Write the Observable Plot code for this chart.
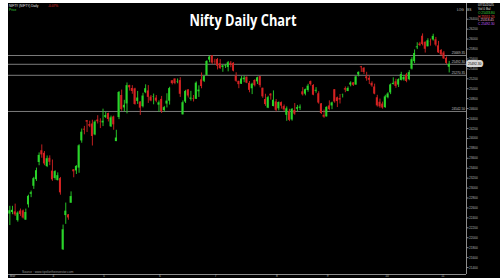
<!DOCTYPE html>
<html><head><meta charset="utf-8">
<script src="https://cdn.jsdelivr.net/npm/d3@7"></script>
<script src="https://cdn.jsdelivr.net/npm/@observablehq/plot@0.6"></script>
<style>
html,body{margin:0;padding:0;background:#fff;}
#wrap{position:relative;width:500px;height:280px;background:#fff;overflow:hidden;}
#chart{position:absolute;left:8px;top:3px;width:492px;height:275px;background:#000;}
#overlay{position:absolute;left:0;top:0;pointer-events:none;}
</style></head><body>
<div id="wrap"><div id="chart"></div><svg id="overlay" width="500" height="280"></svg></div>
<script>
// Nifty daily candles (index 0 = first bar on the left)
const opens = [22476,22508,22521,22345,22537,22541,22354,22662,22875,23036,
23169,23515,23751,23700,23433,23600,23342,23193,23150,23190,
21758,22446,22460,22695,23368,23345,23402,23949,24185,24357,
24277,24290,24070,24370,24342,24311,24419,24500,24233,24431,
23936,24420,24864,24613,24694,25064,25005,24997,24745,24733,
24639,24919,24956,24832,24825,24812,24669,24786,24560,24691,
24749,25160,25196,25134,25164,24474,24732,24977,24788,24803,
24787,24939,25179,25150,25268,25576,25661,25551,25588,25505,
25428,25450,25427,25515,25512,25255,25149,25090,25181,25231,
25109,24999,25166,25139,25244,25010,24783,24609,24890,24642,
24735,24596,24720,24641,24464,24544,24372,24563,24587,24607,
24938,24891,24965,25143,25065,24950,24899,24695,24466,24432,
24654,24653,24980,24818,24802,24864,25000,24945,25074,25118,
25074,25276,25441,25410,25239,25209,25108,25035,24818,24728,
24691,24620,24819,24916,25086,25140,25074,25167,25177,25276,
25182,25394,25546,25824,25901,26057,25935,25844,25940,25982,
25985,25863,25770,25720,25610,25433];
const highs = [22633,22633,22677,22522,22578,22558,22577,22857,22940,23216,
23402,23708,23869,23736,23646,23649,23565,23350,23306,23214,
22255,22698,22468,22923,23368,23452,23872,24189,24242,24359,
24347,24366,24355,24457,24396,24589,24526,24510,24449,24448,
24164,24944,24973,24767,25116,25071,25062,25010,24946,24737,
24909,25079,25063,24864,24893,24863,24754,24845,24644,24899,
25029,25160,25199,25196,25222,24754,24967,24982,24947,24863,
25137,25058,25318,25266,25565,25655,25669,25594,25608,25587,
25470,25489,25549,25548,25525,25322,25151,25245,25255,25238,
25145,25111,25183,25233,25246,25011,24889,24848,24902,24956,
24784,24734,24733,24672,24634,24586,24602,24702,24664,24674,
25022,24993,25089,25154,25084,25022,24939,24702,24572,24636,
24756,24730,24980,24832,24885,24891,25036,25037,25139,25126,
25251,25338,25449,25428,25331,25261,25139,25092,24868,24791,
24731,24868,24920,25095,25220,25192,25199,25330,25267,25310,
25365,25625,25781,25926,25934,26104,25944,26006,26000,26097,
26033,25953,25790,25750,25640,25551];
const lows = [22245,22464,22429,22314,22430,22377,22353,22599,22807,22974,
23133,23450,23601,23451,23412,23451,23136,23158,23145,22857,
21743,22270,22353,22695,23207,23273,23298,23903,24072,24119,
24216,23847,24054,24290,24198,24238,24400,24331,24220,24164,
23935,24378,24547,24535,24494,24953,24889,24669,24685,24462,
24614,24900,24704,24737,24677,24717,24526,24502,24530,24613,
24671,25077,25081,25100,24825,24473,24703,24813,24750,24733,
24783,24825,24999,25125,25259,25523,25489,25488,25378,25389,
25331,25407,25340,25424,25340,25129,25001,25089,25121,25101,
24918,24882,25036,25086,25018,24807,24646,24599,24771,24636,
24535,24554,24590,24539,24344,24337,24347,24465,24539,24563,
24853,24857,24929,25054,24859,24910,24689,24481,24405,24432,
24554,24579,24708,24621,24693,24814,24920,24940,25038,25045,
25070,25239,25329,25287,25151,25084,25028,24878,24630,24606,
24588,24605,24797,24881,25076,25008,25024,25156,25152,25120,
25160,25377,25508,25788,25848,25862,25718,25844,25857,25960,
25845,25711,25660,25590,25490,25318];
const closes = [22544,22552,22460,22497,22470,22397,22509,22834,22907,23190,
23350,23658,23668,23486,23591,23519,23165,23332,23250,22904,
22161,22535,22399,22829,23328,23437,23851,24125,24167,24328,
24246,24039,24328,24335,24334,24346,24461,24380,24414,24273,
24008,24924,24578,24666,25062,25019,24945,24683,24813,24609,
24853,25001,24826,24752,24833,24750,24716,24542,24620,24751,
25003,25103,25104,25141,24888,24719,24946,24853,24812,24793,
25112,24972,25044,25245,25549,25637,25517,25542,25453,25405,
25461,25461,25523,25476,25355,25150,25082,25196,25212,25112,
24968,25091,25061,25220,25062,24837,24681,24821,24855,24768,
24565,24723,24650,24574,24596,24363,24585,24487,24619,24631,
24877,24980,25051,25083,24870,24968,24712,24501,24427,24625,
24580,24715,24734,24741,24773,24868,24973,25006,25114,25069,
25239,25330,25424,25327,25202,25170,25057,24891,24655,24635,
24611,24836,24894,25077,25108,25046,25182,25285,25227,25146,
25324,25585,25710,25843,25869,25891,25795,25966,25936,26054,
25878,25722,25680,25600,25510,25492.3];

// horizontal support / resistance levels
const levels = [25669.35, 25492.30, 25270.35, 24542.50];
const levelLabels = ["25669.35", "25492.30", "25270.35", "24542.50"];
// right price axis ticks
const yTicks = [21400,21600,21800,22000,22200,22400,22600,22800,23000,23200,23400,23600,23800,
24000,24200,24400,24600,24800,25000,25200,25400,25600,25800,26000,26200,26400];
// month labels on the date axis (bar index where each appears)
const monthTicks = [0, 16, 35, 56, 77, 100, 119, 141, 162];
const monthLabels = ["Mar", "4", "5", "6", "7", "8", "9", "10", "11"];

const green = "#2ad42a", red = "#d42222";
const candles = closes.map((c, i) => ({i, o: opens[i], h: highs[i], l: lows[i], c}));
const col = d => d.c >= d.o ? green : red;
const lastPrice = closes[closes.length - 1];

const chart = Plot.plot({
  width: 492, height: 275,
  marginLeft: 0, marginRight: 34, marginTop: 0, marginBottom: 4,
  style: {background: "#000", color: "#b4b4b4", fontFamily: "Liberation Sans, Arial, sans-serif"},
  x: {domain: [-0.5, 171.5], axis: null},
  y: {domain: [21260, 26716], axis: null},
  marks: [
    Plot.ruleY(levels, {stroke: "#7c7c7c", strokeWidth: 1}),
    Plot.ruleX([171.5], {stroke: "#8c8c8c"}),
    Plot.ruleY([21260], {stroke: "#8c8c8c"}),
    Plot.ruleX(candles, {x: "i", y1: "l", y2: "h", stroke: col, strokeWidth: 0.9}),
    Plot.rect(candles, {x1: d => d.i - 0.37, x2: d => d.i + 0.37, y1: "o", y2: "c", fill: col}),
    Plot.axisY({anchor: "right", ticks: yTicks, tickSize: 1.5, tickPadding: 1, fontSize: 3.2,
      tickFormat: d => String(d), stroke: "#8c8c8c", fill: "#b4b4b4"}),
    Plot.text(levels, {y: d => d, text: (d, i) => levelLabels[i], frameAnchor: "right",
      textAnchor: "end", dx: -1.5, dy: -2.3, fontSize: 3.2, fill: "#c4c4c4"}),
    Plot.text([lastPrice], {y: d => d, text: d => d.toFixed(2), frameAnchor: "right",
      textAnchor: "start", dx: 1.5, fontSize: 3.2, fill: "#000", stroke: "#d6d6d6",
      strokeWidth: 4, paintOrder: "stroke"}),
    Plot.text(monthTicks, {x: d => d, text: (d, i) => monthLabels[i], frameAnchor: "bottom",
      dy: 2.3, textAnchor: "start", fontSize: 3.2, fill: "#b4b4b4"})
  ]
});
document.getElementById("chart").appendChild(chart);

// header / title annotations
const ov = d3.select("#overlay");
const txt = (x, y, s, o = {}) => {
  const t = ov.append("text").attr("x", x).attr("y", y).text(s)
    .attr("font-family", o.font || "Liberation Sans, Arial, sans-serif")
    .attr("font-size", o.size || 3.2).attr("fill", o.fill || "#e8e8e8")
    .attr("text-anchor", o.anchor || "start");
  if (o.weight) t.attr("font-weight", o.weight);
  if (o.len) t.attr("textLength", o.len).attr("lengthAdjust", "spacingAndGlyphs");
  return t;
};
txt(243, 26, "Nifty Daily Chart", {font: "Open Sans, sans-serif", size: 15.5, weight: "bold",
  fill: "#ffffff", anchor: "middle", len: 107});
txt(9, 6.5, "NIFTY (NIFTY) Daily");
txt(48, 6.5, "-0.07%", {fill: "#e03030"});
txt(9, 11, "Price", {fill: "#3cd83c"});
txt(457, 10.5, "LOG", {fill: "#cfcfcf"});
txt(467, 10.5, "BS", {fill: "#cfcfcf"});
txt(478, 6, "07/11/2025", {fill: "#eeeeee"});
txt(478, 10, "Vol 0 Bal", {fill: "#dddddd"});
txt(478, 14, "O 25433.80", {fill: "#3cd83c"});
txt(478, 17.5, "H 25551.25", {fill: "#ff5050"});
txt(478, 21, "L 25318.45", {fill: "#f0b0d0"});
txt(478, 24.5, "C 25492.30", {fill: "#c860ff"});
txt(22, 273, "Source : www.tipsfortheinvestor.com", {fill: "#9a9a9a"});
</script>
</body></html>
